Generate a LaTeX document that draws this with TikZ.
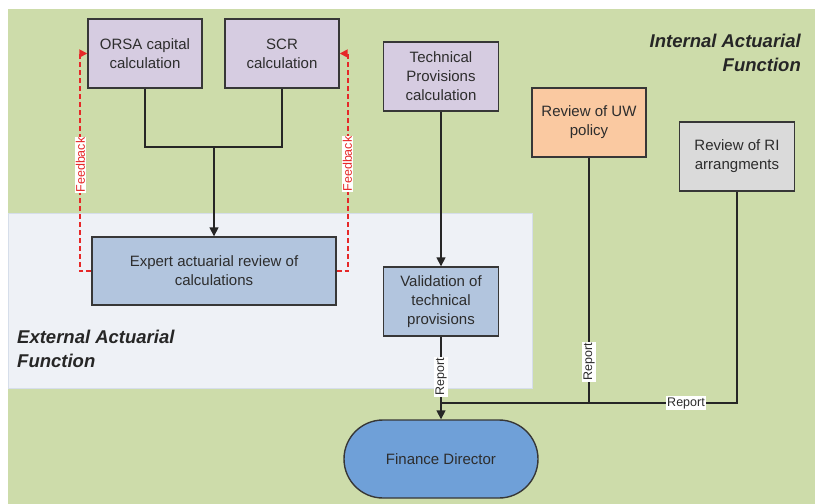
\documentclass[tikz,border=0pt]{standalone}
\usepackage{fontspec}
\setmainfont{Liberation Sans}
\usetikzlibrary{arrows.meta}
\definecolor{bggreen}{RGB}{205,220,170}
\definecolor{extbg}{RGB}{238,241,246}
\definecolor{extline}{RGB}{214,222,234}
\definecolor{lilac}{RGB}{214,204,225}
\definecolor{peach}{RGB}{250,201,161}
\definecolor{lgray}{RGB}{218,218,218}
\definecolor{steel}{RGB}{178,197,222}
\definecolor{fdblue}{RGB}{111,160,216}
\definecolor{boxline}{RGB}{55,55,55}
\definecolor{txt}{RGB}{45,45,45}
\definecolor{fbred}{RGB}{230,40,40}
\tikzset{
  box/.style={draw=boxline, line width=1.4pt, align=center, text=txt,
    font=\fontsize{15}{19}\selectfont, inner sep=0pt},
  conn/.style={line width=1.6pt, draw=black!85},
  arr/.style={conn, -{Triangle[length=9pt,width=9pt]}},
  fb/.style={draw=fbred, line width=1.7pt, dash pattern=on 5pt off 3pt,
    -{Triangle[length=8pt,width=8pt,fill=fbred]}},
  lbl/.style={fill=white, inner sep=1pt, font=\fontsize{12.5}{14}\selectfont, text=txt},
  area/.style={font=\bfseries\itshape\fontsize{18.5}{23.5}\selectfont, text=black!85, inner sep=0pt}
}
\begin{document}
\begin{tikzpicture}[x=1pt,y=-1pt]
\useasboundingbox (0,0) rectangle (815,504);
\fill[bggreen] (8,9) rectangle (815,504);
\filldraw[fill=extbg, draw=extline, line width=0.8pt] (8,213) rectangle (532,388);

\node[area, anchor=east, align=right] (intlbl) at (801,53) {Internal Actuarial\\Function};
\node[area, anchor=west, align=left] (extlbl) at (17,349) {External Actuarial\\Function};

\node[box, fill=lilac, minimum width=114, minimum height=69] (orsa) at (145,53.5) {ORSA capital\\calculation};
\node[box, fill=lilac, minimum width=114, minimum height=69] (scr) at (282,53.5) {SCR\\calculation};
\node[box, fill=lilac, minimum width=115, minimum height=69] (tp) at (441,76.5) {Technical\\Provisions\\calculation};
\node[box, fill=peach, minimum width=114, minimum height=69] (uw) at (589,122.5) {Review of UW\\policy};
\node[box, fill=lgray, minimum width=115, minimum height=69] (ri) at (737,156.5) {Review of RI\\arrangments};
\node[box, fill=steel, minimum width=244, minimum height=68] (expert) at (214,271) {Expert actuarial review of\\calculations};
\node[box, fill=steel, minimum width=115, minimum height=69] (val) at (441,301.5) {Validation of\\technical\\provisions};
\node[box, fill=fdblue, minimum width=194, minimum height=78, rounded corners=39pt] (fd) at (441,459) {Finance Director};

\coordinate (j1) at (214,147);
\draw[conn] (orsa.south) |- (j1) -| (scr.south);
\draw[arr] (j1) -- (expert.north);

\draw[fb] (expert.west) -- ++(-11.5,0) |- (orsa.west);
\draw[fb] (expert.east) -- ++(11.5,0) |- (scr.east);
\node[lbl, rotate=90, text=fbred] (fbl) at (80.5,165) {Feedback};
\node[lbl, rotate=90, text=fbred] (fbr) at (347.5,164) {Feedback};

\draw[arr] (tp.south) -- (val.north);
\draw[arr] (val.south) -- (fd.north);
\coordinate (bus) at (441,403);
\draw[conn] (uw.south) -- (uw.south |- bus);
\draw[conn] (ri.south) |- (bus);
\node[lbl, rotate=90] (rep1) at (441,377) {Report};
\node[lbl, rotate=90] (rep2) at (589,362) {Report};
\node[lbl] (rep3) at (686,403) {Report};
\end{tikzpicture}
\end{document}
